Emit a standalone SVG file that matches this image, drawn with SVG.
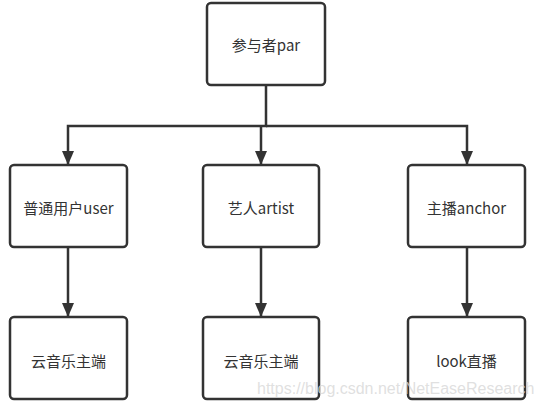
<svg xmlns="http://www.w3.org/2000/svg" width="540" height="407" viewBox="0 0 540 407">
<defs>
<style>
.box{fill:#fff;stroke:#333;stroke-width:2.5}
.lbl{font-family:"Microsoft YaHei","Noto Sans CJK SC",sans-serif;font-size:15px;fill:#333;text-anchor:middle;dominant-baseline:central}
.ln{fill:none;stroke:#333;stroke-width:2.5;marker-end:url(#ah)}
.wm{font-family:"Liberation Sans",Arial,sans-serif;font-size:16px;fill:#d8d8d8;fill-opacity:0.8}
</style>
<marker id="ah" markerUnits="userSpaceOnUse" markerWidth="14" markerHeight="12" refX="13" refY="6" orient="auto" viewBox="0 0 14 12">
<path d="M0,0 L14,6 L0,12 Z" fill="#333"/>
</marker>
</defs>
<rect width="540" height="407" fill="#fff"/>
<g id="connectors">
<path class="ln" d="M266,85 V126 H68 V164"/>
<path class="ln" d="M266,126 H467 V164"/>
<path class="ln" d="M261,126 V164"/>
<path class="ln" d="M68,247 V316"/>
<path class="ln" d="M261,247 V316"/>
<path class="ln" d="M467,247 V316"/>
</g>
<g id="par"><rect class="box" x="207" y="3" width="118" height="82" rx="4"/><text class="lbl" x="266" y="44">参与者par</text></g>
<g id="user"><rect class="box" x="10" y="165" width="117" height="82" rx="4"/><text class="lbl" x="68.5" y="207">普通用户user</text></g>
<g id="artist"><rect class="box" x="203" y="165" width="116" height="82" rx="4"/><text class="lbl" x="261" y="207">艺人artist</text></g>
<g id="anchor"><rect class="box" x="408" y="165" width="117" height="82" rx="4"/><text class="lbl" x="466.5" y="207">主播anchor</text></g>
<g id="user-client"><rect class="box" x="10" y="317" width="117" height="82" rx="4"/><text class="lbl" x="68.5" y="360">云音乐主端</text></g>
<g id="artist-client"><rect class="box" x="203" y="317" width="116" height="82" rx="4"/><text class="lbl" x="261" y="360">云音乐主端</text></g>
<g id="anchor-live"><rect class="box" x="408" y="317" width="117" height="82" rx="4"/><text class="lbl" x="466.5" y="360">look直播</text></g>
<text class="wm" x="257" y="394">https://blog.csdn.net/NetEaseResearch</text>
</svg>
